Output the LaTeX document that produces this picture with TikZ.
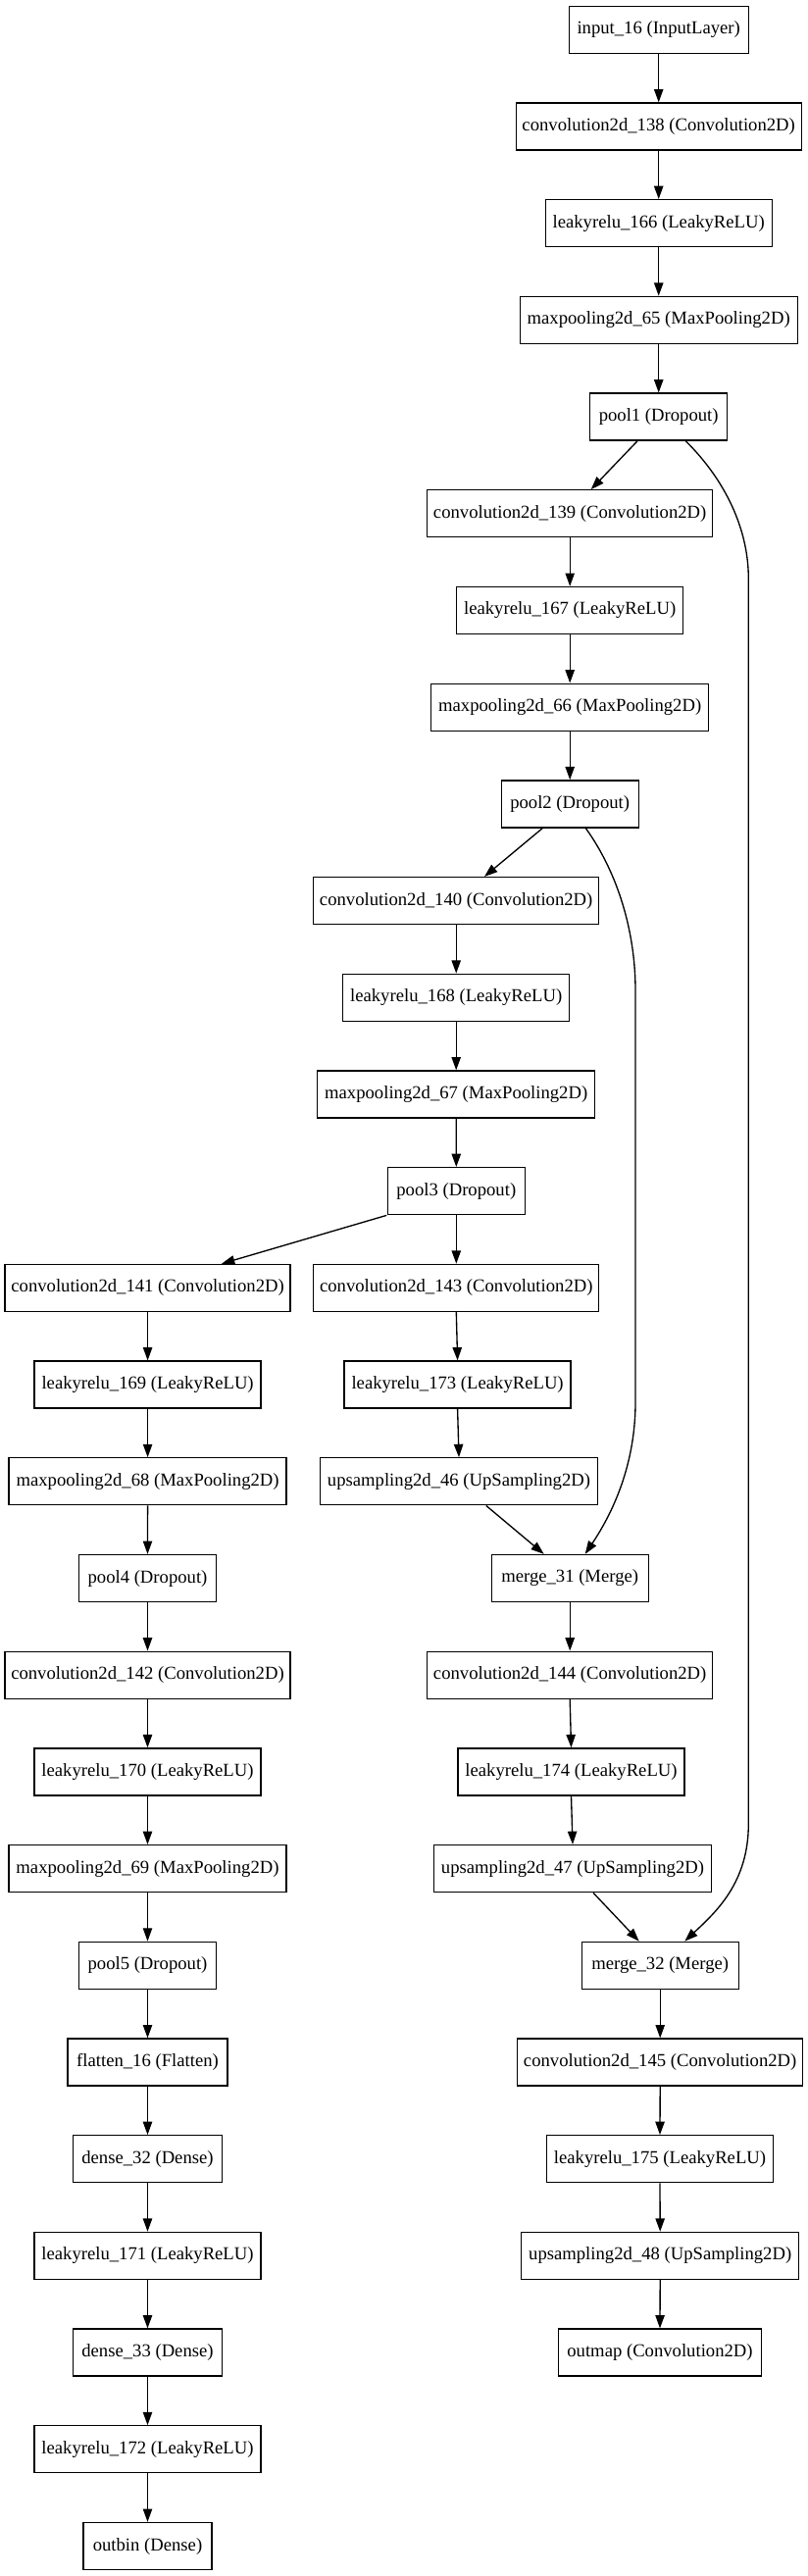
\documentclass[tikz,border=0pt]{standalone}
\usepackage{fontspec}
\setmainfont{Liberation Serif}
\usetikzlibrary{arrows.meta,calc}
\tikzset{
  layer/.style={draw=black, line width=1pt, inner sep=0pt, minimum height=36pt,
    minimum width=#1, font=\fontsize{14pt}{16pt}\selectfont, anchor=center},
  edge/.style={line width=1pt, -{Triangle[length=10pt,width=7pt]}},
}
\begin{document}
\begin{tikzpicture}[x=0.75pt,y=-0.75pt]
\useasboundingbox (0,0) rectangle (824,2627);
% main trunk
\node[layer=137.25pt] (input) at (671.7,30.3) {input\_16 (InputLayer)};
\node[layer=218.25pt] (c138) at (671.7,129.0) {convolution2d\_138 (Convolution2D)};
\node[layer=173.25pt] (l166) at (671.7,227.7) {leakyrelu\_166 (LeakyReLU)};
\node[layer=212.25pt] (m65) at (671.7,326.4) {maxpooling2d\_65 (MaxPooling2D)};
\node[layer=105pt] (pool1) at (671.7,425.1) {pool1 (Dropout)};
\node[layer=218.25pt] (c139) at (581.2,523.8) {convolution2d\_139 (Convolution2D)};
\node[layer=173.25pt] (l167) at (581.2,622.5) {leakyrelu\_167 (LeakyReLU)};
\node[layer=212.25pt] (m66) at (581.2,721.2) {maxpooling2d\_66 (MaxPooling2D)};
\node[layer=105pt] (pool2) at (581.2,819.9) {pool2 (Dropout)};
\node[layer=218.25pt] (c140) at (465.2,918.6) {convolution2d\_140 (Convolution2D)};
\node[layer=173.25pt] (l168) at (465.2,1017.3) {leakyrelu\_168 (LeakyReLU)};
\node[layer=212.25pt] (m67) at (465.2,1116.0) {maxpooling2d\_67 (MaxPooling2D)};
\node[layer=105pt] (pool3) at (465.3,1214.7) {pool3 (Dropout)};
% left branch
\node[layer=218.25pt] (c141) at (150.6,1313.4) {convolution2d\_141 (Convolution2D)};
\node[layer=173.25pt] (l169) at (150.6,1412.1) {leakyrelu\_169 (LeakyReLU)};
\node[layer=212.25pt] (m68) at (150.6,1510.8) {maxpooling2d\_68 (MaxPooling2D)};
\node[layer=105pt] (pool4) at (150.5,1609.5) {pool4 (Dropout)};
\node[layer=218.25pt] (c142) at (150.5,1708.2) {convolution2d\_142 (Convolution2D)};
\node[layer=173.25pt] (l170) at (150.5,1806.9) {leakyrelu\_170 (LeakyReLU)};
\node[layer=212.25pt] (m69) at (150.5,1905.6) {maxpooling2d\_69 (MaxPooling2D)};
\node[layer=105pt] (pool5) at (150.5,2004.3) {pool5 (Dropout)};
\node[layer=122.25pt] (flat) at (150.5,2103.0) {flatten\_16 (Flatten)};
\node[layer=114.3pt] (d32) at (150.5,2201.7) {dense\_32 (Dense)};
\node[layer=173.25pt] (l171) at (150.5,2300.4) {leakyrelu\_171 (LeakyReLU)};
\node[layer=114.3pt] (d33) at (150.5,2399.1) {dense\_33 (Dense)};
\node[layer=173.25pt] (l172) at (150.5,2497.8) {leakyrelu\_172 (LeakyReLU)};
\node[layer=98.25pt] (outbin) at (150.5,2596.5) {outbin (Dense)};
% right branch
\node[layer=218.25pt] (c143) at (465.3,1313.4) {convolution2d\_143 (Convolution2D)};
\node[layer=173.25pt] (l173) at (466.6,1412.1) {leakyrelu\_173 (LeakyReLU)};
\node[layer=212.25pt] (u46) at (468.0,1510.8) {upsampling2d\_46 (UpSampling2D)};
\node[layer=120pt] (mg31) at (581.2,1609.5) {merge\_31 (Merge)};
\node[layer=218.25pt] (c144) at (581.2,1708.2) {convolution2d\_144 (Convolution2D)};
\node[layer=173.25pt] (l174) at (582.5,1806.9) {leakyrelu\_174 (LeakyReLU)};
\node[layer=212.25pt] (u47) at (584.0,1905.6) {upsampling2d\_47 (UpSampling2D)};
\node[layer=120pt] (mg32) at (673.2,2004.3) {merge\_32 (Merge)};
\node[layer=218.25pt] (c145) at (673.2,2103.0) {convolution2d\_145 (Convolution2D)};
\node[layer=173.25pt] (l175) at (673.0,2201.7) {leakyrelu\_175 (LeakyReLU)};
\node[layer=212.25pt] (u48) at (673.2,2300.4) {upsampling2d\_48 (UpSampling2D)};
\node[layer=155.55pt] (outmap) at (673.0,2399.1) {outmap (Convolution2D)};
% straight edges
\foreach \a/\b in {input/c138,c138/l166,l166/m65,m65/pool1,
  c139/l167,l167/m66,m66/pool2,
  c140/l168,l168/m67,m67/pool3,pool3/c143,
  c141/l169,l169/m68,m68/pool4,pool4/c142,c142/l170,l170/m69,m69/pool5,
  pool5/flat,flat/d32,d32/l171,l171/d33,d33/l172,l172/outbin,
  c143/l173,l173/u46,mg31/c144,c144/l174,l174/u47,
  mg32/c145,c145/l175,l175/u48,u48/outmap}
  \draw[edge] (\a.south) -- (\b.north);
% diagonal edges
\draw[edge] ($(pool1.south)+(-21.7,0)$) -- ($(c139.north)+(21.5,0)$);
\draw[edge] ($(pool2.south)+(-27.9,0)$) -- ($(c140.north)+(28.8,0)$);
\draw[edge] ($(pool3.south)+(-71,0)$) -- ($(c141.north)+(75.4,0)$);
\draw[edge] ($(u46.south)+(27.8,0)$) -- ($(mg31.north)+(-26.5,0)$);
\draw[edge] ($(u47.south)+(21,0)$) -- ($(mg32.north)+(-21.5,0)$);
% skip connections
\draw[edge] ($(pool1.south)+(27.6,0)$) .. controls (740,490) and (763.3,540) .. (763.3,590)
  -- (763.3,1860) .. controls (763.3,1920) and (730,1950) .. ($(mg32.north)+(25.1,0)$);
\draw[edge] ($(pool2.south)+(16.1,0)$) .. controls (630,890) and (648,950) .. (648,1010)
  -- (648,1430) .. controls (648,1500) and (620,1550) .. ($(mg31.north)+(15.5,0)$);
\end{tikzpicture}
\end{document}
